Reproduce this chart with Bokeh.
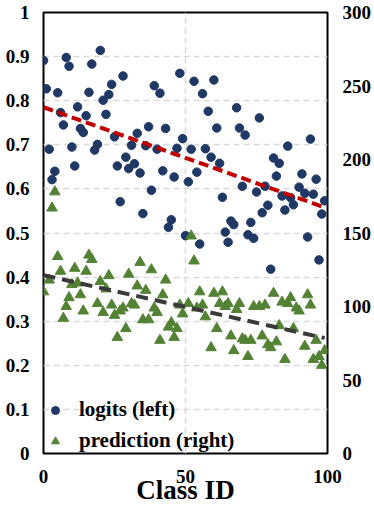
import numpy as np
from bokeh.plotting import figure
from bokeh.models import (Range1d, LinearAxis, FixedTicker, NumeralTickFormatter,
                          Legend, LegendItem)
from bokeh.embed import file_html
from bokeh.resources import INLINE

# ---- data ----
logit_ids = [0, 1, 2, 3, 4, 5, 6, 7, 8, 9, 10, 11, 12, 13, 14, 15, 16, 17, 18, 19,
             20, 21, 22, 23, 24, 25, 26, 27, 28, 29, 30, 31, 32, 33, 34, 35, 36, 37, 38, 39,
             40, 41, 42, 43, 44, 45, 46, 47, 48, 49, 50, 51, 52, 53, 54, 55, 56, 57, 58, 59,
             60, 61, 62, 63, 64, 65, 66, 67, 68, 69, 70, 71, 72, 73, 74, 75, 76, 77, 78, 79,
             80, 81, 82, 83, 84, 85, 86, 87, 88, 90, 91, 92, 93, 94, 95, 96, 97, 98, 99]
logit_vals = [0.891, 0.827, 0.690, 0.621, 0.640, 0.818, 0.773, 0.745, 0.898, 0.878,
              0.695, 0.652, 0.786, 0.737, 0.728, 0.766, 0.819, 0.883, 0.688, 0.701,
              0.914, 0.801, 0.769, 0.814, 0.837, 0.718, 0.652, 0.571, 0.856, 0.672,
              0.646, 0.699, 0.657, 0.726, 0.636, 0.544, 0.698, 0.741, 0.597, 0.834,
              0.690, 0.817, 0.641, 0.737, 0.513, 0.530, 0.627, 0.692, 0.862, 0.714,
              0.494, 0.616, 0.690, 0.844, 0.638, 0.475, 0.816, 0.691, 0.776, 0.672,
              0.847, 0.738, 0.658, 0.581, 0.502, 0.479, 0.527, 0.519, 0.784, 0.738,
              0.606, 0.722, 0.496, 0.524, 0.488, 0.593, 0.761, 0.546, 0.606, 0.563,
              0.418, 0.670, 0.629, 0.658, 0.584, 0.552, 0.697, 0.580, 0.564, 0.604,
              0.634, 0.590, 0.491, 0.713, 0.588, 0.622, 0.439, 0.543, 0.573]

pred_ids = [0, 2, 3, 4, 5, 6, 7, 8, 9, 10, 11, 12, 13, 14, 15, 16, 17, 19,
            20, 21, 22, 23, 24, 25, 26, 27, 28, 29, 30, 31, 32, 33, 34, 35, 36, 37, 38, 39,
            40, 41, 42, 43, 44, 45, 46, 47, 48, 49, 51, 52, 53, 54, 55, 56, 57, 59,
            60, 61, 62, 63, 64, 65, 66, 67, 68, 69, 70, 71, 72, 73, 74, 76, 77, 78, 79,
            80, 81, 82, 83, 84, 85, 86, 87, 88, 89, 90, 92, 93, 94, 95, 96, 97, 98, 99]
pred_vals = [110, 118, 167, 178, 134, 124, 92, 100, 106, 115, 126, 116, 108, 97, 124, 135, 132, 102,
             117, 96, 112, 121, 101, 94, 79, 97, 99, 85, 122, 102, 101, 114, 130, 91, 111, 91, 125, 99,
             96, 77, 108, 118, 86, 89, 79, 85, 101, 95, 102, 148, 131, 99, 110, 101, 93, 72,
             109, 85, 102, 110, 100, 102, 80, 70, 98, 102, 78, 77, 66, 77, 100, 100, 80, 101, 74,
             72, 109, 76, 87, 103, 64, 102, 106, 85, 99, 97, 73, 108, 101, 64, 77, 66, 60, 70]

left_ticks = [0, 0.1, 0.2, 0.3, 0.4, 0.5, 0.6, 0.7, 0.8, 0.9, 1]
right_ticks = [0, 50, 100, 150, 200, 250, 300]
x_ticks = [0, 50, 100]
x_grid = [50]

series_names = ["logits (left)", "prediction (right)"]
x_title = "Class ID"

FONT = "Liberation Serif"
BLUE = "#1F3864"
GREEN = "#548235"
RED = "#C00000"
DARK = "#3A3A3A"
GRID = "#D9D9D9"

p = figure(width=374, height=509, x_range=Range1d(0, 100), y_range=Range1d(0, 1),
           output_backend="svg", toolbar_location=None,
           min_border_left=43, min_border_right=46, min_border_top=12, min_border_bottom=56)
p.extra_y_ranges = {"right": Range1d(0, 300)}

p.background_fill_color = "white"
p.border_fill_color = "white"
p.outline_line_color = "black"
p.outline_line_width = 2

# axes
p.xaxis.ticker = FixedTicker(ticks=x_ticks)
p.yaxis.ticker = FixedTicker(ticks=left_ticks)
p.yaxis.formatter = NumeralTickFormatter(format="0.[0]")
right_axis = LinearAxis(y_range_name="right", ticker=FixedTicker(ticks=right_ticks))
p.add_layout(right_axis, "right")

for ax in [p.xaxis[0], p.yaxis[0], right_axis]:
    ax.axis_line_color = None
    ax.major_tick_line_color = None
    ax.minor_tick_line_color = None
    ax.major_tick_out = 0
    ax.major_tick_in = 0
    ax.minor_tick_out = 0
    ax.minor_tick_in = 0
    ax.major_label_text_font = FONT
    ax.major_label_text_font_style = "bold"
    ax.major_label_text_font_size = "19px"
    ax.major_label_text_color = "black"

p.yaxis[0].major_label_standoff = 14
right_axis.major_label_standoff = 15
p.xaxis.major_label_standoff = 16
p.xaxis.axis_label = x_title
p.xaxis.axis_label_text_font = FONT
p.xaxis.axis_label_text_font_style = "bold"
p.xaxis.axis_label_text_font_size = "27px"
p.xaxis.axis_label_text_color = "black"
p.xaxis.axis_label_standoff = -11

# grids
p.xgrid.ticker = FixedTicker(ticks=x_grid)
p.ygrid.ticker = FixedTicker(ticks=left_ticks)
for g in [p.xgrid[0], p.ygrid[0]]:
    g.grid_line_color = GRID
    g.grid_line_dash = "6 4"
    g.grid_line_width = 1.5

# points
r_logit = p.scatter(logit_ids, logit_vals, marker="circle", size=8.5,
                    fill_color=BLUE, line_color=BLUE)
r_pred = p.scatter(pred_ids, pred_vals, marker="triangle", size=10.5,
                   fill_color=GREEN, line_color=GREEN, y_range_name="right")

# linear trend lines
bx = np.array(logit_ids, dtype=float)
k1, b1 = np.polyfit(bx, np.array(logit_vals), 1)
tx1 = [bx.min(), bx.max()]
p.line(tx1, [k1 * t + b1 for t in tx1], line_color=RED, line_width=4, line_dash="10 5")

gx = np.array(pred_ids, dtype=float)
k2, b2 = np.polyfit(gx, np.array(pred_vals, dtype=float), 1)
tx2 = [gx.min(), gx.max()]
p.line(tx2, [k2 * t + b2 for t in tx2], line_color=DARK, line_width=4, line_dash="12 7",
       y_range_name="right")

legend = Legend(items=[LegendItem(label=series_names[0], renderers=[r_logit]),
                       LegendItem(label=series_names[1], renderers=[r_pred])],
                location=(2, 0))
legend.label_text_font = FONT
legend.label_text_font_style = "bold"
legend.label_text_font_size = "21px"
legend.label_text_color = "black"
legend.background_fill_alpha = 0
legend.border_line_color = None
legend.glyph_width = 20
legend.glyph_height = 20
legend.label_standoff = 14
legend.spacing = 6
legend.padding = 3
legend.margin = 0
p.add_layout(legend)

open("out.html", "w").write(file_html(p, INLINE))
